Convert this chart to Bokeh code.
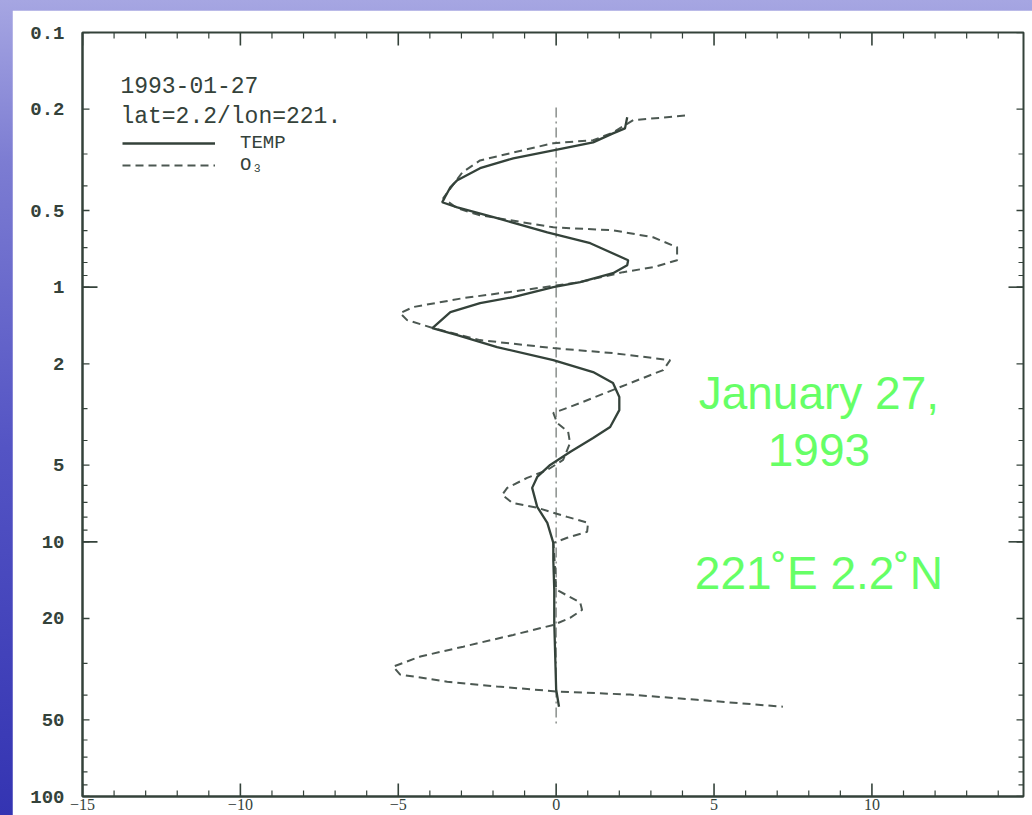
from math import pi
from bokeh.plotting import figure
from bokeh.layouts import column
from bokeh.models import Range1d, FixedTicker, Label, Legend, LegendItem
from bokeh.embed import file_html
from bokeh.resources import INLINE

# ---------------- data ----------------
temp_x = [2.25, 2.18, 1.80, 1.17, -0.09, -1.36, -2.41, -3.13, -3.35, -3.61,
          -3.13, -1.87, -0.28, 1.08, 2.28, 2.25, 1.80, 0.76, -0.09, -1.36,
          -2.41, -3.35, -3.92, -3.13, -1.87, -0.09, 1.17, 1.80, 2.00, 2.00,
          1.71, 1.17, 0.44, -0.19, -0.60, -0.76, -0.60, -0.28, -0.09, -0.09,
          -0.06, -0.06, 0.00, 0.09]
temp_p = [0.215, 0.238, 0.249, 0.270, 0.290, 0.312, 0.341, 0.380, 0.405, 0.464,
          0.486, 0.536, 0.609, 0.672, 0.784, 0.820, 0.881, 0.955, 1.000, 1.094,
          1.155, 1.253, 1.448, 1.543, 1.720, 1.934, 2.154, 2.378, 2.70, 3.04,
          3.54, 3.91, 4.44, 4.99, 5.56, 6.14, 7.29, 8.42, 10.1, 11.8,
          15.4, 20.8, 38.0, 44.4]

o3_x = [4.08, 2.44, 1.80, 1.17, -0.09, -1.36, -2.41, -2.97, -3.58, -3.13,
        -2.41, -0.09, 1.80, 3.07, 3.83, 3.83, 3.07, 2.12, 0.76, -1.04,
        -2.94, -4.53, -4.94, -4.72, -3.89, -2.41, -0.09, 1.80, 3.61, 3.39,
        2.03, 0.76, -0.09, 0.03, 0.38, 0.44, 0.22, -0.28, -0.92, -1.55,
        -1.71, -1.39, -0.60, 0.35, 1.01, 0.98, 0.35, -0.09, -0.05, 0.00,
        0.76, 0.82, 0.44, -0.09, -1.36, -2.94, -4.30, -5.16, -4.94, -3.45,
        -1.87, 0.03, 2.34, 4.46, 7.18]
o3_p = [0.212, 0.221, 0.247, 0.265, 0.272, 0.296, 0.318, 0.354, 0.448, 0.490,
        0.522, 0.582, 0.598, 0.637, 0.697, 0.784, 0.835, 0.873, 0.955, 1.027,
        1.104, 1.197, 1.265, 1.347, 1.448, 1.614, 1.735, 1.815, 1.934, 2.116,
        2.466, 2.85, 3.12, 3.41, 3.70, 4.09, 4.77, 5.22, 5.61, 6.14,
        6.54, 7.03, 7.35, 7.98, 8.42, 9.14, 9.64, 10.1, 11.8, 15.4,
        17.3, 18.5, 19.9, 21.2, 23.2, 25.8, 28.2, 30.9, 33.2, 35.4,
        37.0, 38.7, 39.8, 41.7, 44.4]

zero_x = [0, 0]
zero_p = [0.197, 53.0]

x_major = [-15, -10, -5, 0, 5, 10]
x_minor = [-14, -13, -12, -11, -9, -8, -7, -6, -4, -3, -2, -1,
           1, 2, 3, 4, 6, 7, 8, 9, 11, 12, 13, 14]
y_ticks = [0.1, 0.2, 0.5, 1, 2, 5, 10, 20, 50, 100]
y_tick_labels = ["0.1", "0.2", "0.5", "1", "2", "5", "10", "20", "50", "100"]
y_long = [1, 10]
y_minor = [0.3, 0.4, 0.6, 0.7, 0.8, 0.9, 3, 4, 6, 7, 8, 9, 30, 40, 60, 70, 80, 90]

series_names = ["TEMP", "O\u2083"]
info_lines = ["1993-01-27", "lat=2.2/lon=221."]
note_lines = ["January 27,", "1993", "221\u02daE 2.2\u02daN"]

# ---------------- styling ----------------
INK = "#34423a"
DASH_INK = "#4c5852"
GREEN = "#66ff66"
MONO = "Liberation Mono"

X0, X1 = -15, 14.8
P_BOT, P_TOP = 100, 0.1

p = figure(width=1020, height=805, margin=(10, 0, 0, 12),
           x_range=Range1d(X0, X1), y_range=Range1d(P_BOT, P_TOP),
           y_axis_type="log", output_backend="svg", toolbar_location=None,
           min_border_left=70, min_border_top=22, min_border_right=9,
           min_border_bottom=19)
p.grid.visible = False
p.background_fill_color = "white"
p.border_fill_color = "white"
p.outline_line_color = INK
p.outline_line_width = 2

for ax in (p.xaxis[0], p.yaxis[0]):
    ax.axis_line_color = INK
    ax.axis_line_width = 2
    ax.major_tick_in = 0
    ax.major_tick_out = 0
    ax.minor_tick_in = 0
    ax.minor_tick_out = 0

bx = p.xaxis[0]
bx.ticker = FixedTicker(ticks=x_major)
bx.major_label_text_font = "Liberation Serif"
bx.major_label_text_font_size = "16px"
bx.major_label_text_color = INK
bx.major_label_standoff = 2

ly = p.yaxis[0]
ly.ticker = FixedTicker(ticks=y_ticks)
ly.major_label_overrides = dict(zip(y_ticks, y_tick_labels))
ly.major_label_text_font = MONO
ly.major_label_text_font_style = "bold"
ly.major_label_text_font_size = "19px"
ly.major_label_text_color = INK
ly.major_label_standoff = 18

# inward tick marks on all four sides (screen-length rays from the frame edges)
def ticks(xs, ys, length, angle, width):
    p.ray(x=xs, y=ys, length=length, angle=angle, length_units="screen",
          line_color=INK, line_width=width)

ticks(x_major, [P_BOT] * len(x_major), 13, pi / 2, 1.6)
ticks(x_minor, [P_BOT] * len(x_minor), 6, pi / 2, 1.2)
ticks(x_major, [P_TOP] * len(x_major), 13, -pi / 2, 1.6)
ticks(x_minor, [P_TOP] * len(x_minor), 6, -pi / 2, 1.2)
ticks([X0] * len(y_ticks), y_ticks, 7, 0, 1.4)
ticks([X0] * len(y_long), y_long, 15, 0, 1.6)
ticks([X0] * len(y_minor), y_minor, 5, 0, 1.2)
ticks([X1] * len(y_ticks), y_ticks, 7, pi, 1.4)
ticks([X1] * len(y_long), y_long, 15, pi, 1.6)
ticks([X1] * len(y_minor), y_minor, 5, pi, 1.2)

# zero reference line
p.line(zero_x, zero_p, line_color="#8a8f8c", line_width=1.5, line_dash="10 4 2 4")

r_o3 = p.line(o3_x, o3_p, line_color=DASH_INK, line_width=2, line_dash="8 5")
r_temp = p.line(temp_x, temp_p, line_color=INK, line_width=2.3)

legend = Legend(items=[LegendItem(label=series_names[0], renderers=[r_temp]),
                       LegendItem(label=series_names[1], renderers=[r_o3])],
                location=(40, 620), padding=0, margin=0, spacing=0,
                glyph_width=93, glyph_height=18, label_height=18,
                label_standoff=25, label_text_font=MONO,
                label_text_font_size="19px", label_text_color=INK,
                border_line_color=None, background_fill_alpha=0)
p.add_layout(legend)

for txt, yv in zip(info_lines, [0.161, 0.214]):
    p.add_layout(Label(x=-13.8, y=yv, text=txt, text_font=MONO,
                       text_font_size="23px", text_color=INK,
                       text_baseline="alphabetic"))

for txt, yv in zip(note_lines, [2.60, 4.36, 13.2]):
    p.add_layout(Label(x=8.32, y=yv, text=txt, text_font="Liberation Sans",
                       text_font_size="46px", text_color=GREEN,
                       text_align="center", text_baseline="alphabetic"))

page = column(p, width=1032, height=815,
              styles={"background": "linear-gradient(180deg, #a6a6e2 0%, "
                                    "#7c7cd2 20%, #5454c4 55%, #3434b2 100%)"})

open("out.html", "w").write(file_html(page, INLINE))
